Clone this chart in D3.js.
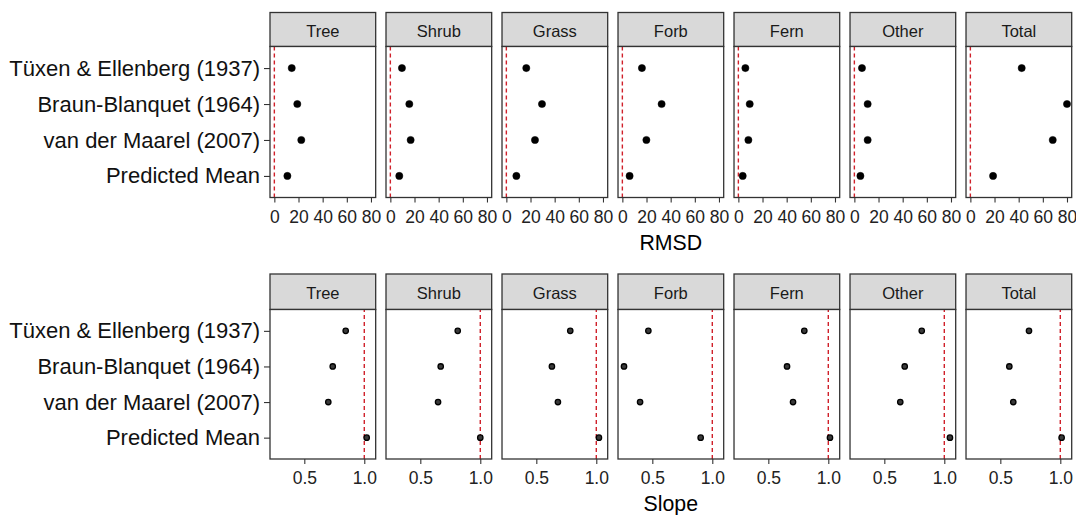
<!DOCTYPE html>
<html>
<head>
<meta charset="utf-8">
<script src="https://cdn.jsdelivr.net/npm/d3@7"></script>
<style>
  body { margin: 0; background: #fff; }
  svg text { font-family: "Liberation Sans", Arial, sans-serif; }
</style>
</head>
<body>
<svg width="1076" height="515"></svg>
<script>
// categories (rows) and facets (columns)
var categories = ["Tüxen & Ellenberg (1937)", "Braun-Blanquet (1964)", "van der Maarel (2007)", "Predicted Mean"];
var groups = ["Tree", "Shrub", "Grass", "Forb", "Fern", "Other", "Total"];

// RMSD values, one array per facet, same order as categories
var rmsdTree  = [14.4, 19.0, 22.3, 10.8];
var rmsdShrub = [9.6, 15.7, 16.8, 7.4];
var rmsdGrass = [16.5, 29.5, 23.7, 8.3];
var rmsdForb  = [16.2, 32.5, 19.9, 6.0];
var rmsdFern  = [5.8, 9.4, 8.3, 3.6];
var rmsdOther = [6.3, 11.0, 11.0, 5.0];
var rmsdTotal = [42.5, 80.0, 68.2, 18.8];

// Slope values
var slopeTree  = [0.845, 0.737, 0.700, 1.020];
var slopeShrub = [0.812, 0.670, 0.648, 1.000];
var slopeGrass = [0.783, 0.630, 0.680, 1.022];
var slopeForb  = [0.467, 0.264, 0.398, 0.903];
var slopeFern  = [0.800, 0.656, 0.706, 1.014];
var slopeOther = [0.812, 0.670, 0.633, 1.047];
var slopeTotal = [0.739, 0.575, 0.608, 1.011];

// tick labels
var rmsdTicks = [0, 20, 40, 60, 80];
var slopeTicks = [0.5, 1.0];

var rmsdData = [rmsdTree, rmsdShrub, rmsdGrass, rmsdForb, rmsdFern, rmsdOther, rmsdTotal];
var slopeData = [slopeTree, slopeShrub, slopeGrass, slopeForb, slopeFern, slopeOther, slopeTotal];

var svg = d3.select("svg");

// facet columns
var facetX = d3.scaleBand().domain(groups).range([270, 1071.7]).paddingInner(0.089).paddingOuter(0);
var panelW = facetX.bandwidth();

function drawRow(opts) {
  var x = d3.scaleLinear().domain(opts.domain).range([0, panelW]);
  var y = d3.scalePoint().domain(categories).range([opts.top, opts.bottom]).padding(0.6);

  groups.forEach(function(g, gi) {
    var gx = facetX(g);
    var p = svg.append("g").attr("transform", "translate(" + gx + ",0)");

    // strip
    p.append("rect")
      .attr("x", 0).attr("y", opts.stripTop)
      .attr("width", panelW).attr("height", opts.top - opts.stripTop)
      .attr("fill", "#d9d9d9").attr("stroke", "#333").attr("stroke-width", 1.3);
    p.append("text")
      .attr("x", panelW / 2).attr("y", (opts.stripTop + opts.top) / 2 + 7.5)
      .attr("text-anchor", "middle")
      .attr("font-size", "16.5px").attr("fill", "#1a1a1a")
      .text(g);

    // panel background
    p.append("rect")
      .attr("x", 0).attr("y", opts.top)
      .attr("width", panelW).attr("height", opts.bottom - opts.top)
      .attr("fill", "#fff");

    // reference line, drawn bottom to top
    p.append("line")
      .attr("x1", x(opts.ref)).attr("x2", x(opts.ref))
      .attr("y1", opts.bottom).attr("y2", opts.top)
      .attr("stroke", "#d0202a").attr("stroke-width", 1.4)
      .attr("stroke-dasharray", "4,3");

    // points
    p.selectAll("circle")
      .data(opts.data[gi])
      .enter()
      .append("circle")
      .attr("cx", function(d) { return x(d); })
      .attr("cy", function(d, i) { return y(categories[i]); })
      .attr("r", opts.r)
      .attr("fill", opts.fill)
      .attr("stroke", "#000")
      .attr("stroke-width", opts.sw);

    // panel border
    p.append("rect")
      .attr("x", 0).attr("y", opts.top)
      .attr("width", panelW).attr("height", opts.bottom - opts.top)
      .attr("fill", "none").attr("stroke", "#333").attr("stroke-width", 1.3);

    // x axis
    var ax = p.append("g")
      .attr("transform", "translate(0," + opts.bottom + ")")
      .call(d3.axisBottom(x).tickValues(opts.ticks).tickFormat(opts.fmt).tickSize(5).tickPadding(8));
    ax.select(".domain").remove();
    ax.selectAll("line").attr("stroke", "#333").attr("stroke-width", 1.1);
    ax.selectAll("text")
      .attr("font-size", "17.5px").attr("fill", "#222")
      .attr("font-family", "Liberation Sans, Arial, sans-serif");

    // y axis only on first facet
    if (gi === 0) {
      var ay = p.append("g")
        .call(d3.axisLeft(y).tickSize(6).tickPadding(4));
      ay.select(".domain").remove();
      ay.selectAll("line").attr("stroke", "#333").attr("stroke-width", 1.1);
      ay.selectAll("text")
        .attr("font-size", "22px").attr("fill", "#111")
        .attr("font-family", "Liberation Sans, Arial, sans-serif");
    }
  });

  // axis title
  svg.append("text")
    .attr("x", 670.8).attr("y", opts.titleY)
    .attr("text-anchor", "middle")
    .attr("font-size", "21.3px").attr("fill", "#000")
    .text(opts.title);
}

drawRow({
  stripTop: 12.5, top: 46.5, bottom: 197.5,
  domain: [-3.6, 83.9], ref: 0, data: rmsdData,
  ticks: rmsdTicks, fmt: d3.format("d"),
  r: 3.6, fill: "#000", sw: 0.5,
  title: "RMSD", titleY: 250
});

drawRow({
  stripTop: 274, top: 309.5, bottom: 459,
  domain: [0.214, 1.095], ref: 1, data: slopeData,
  ticks: slopeTicks, fmt: d3.format(".1f"),
  r: 2.7, fill: "#3a3a3a", sw: 1.3,
  title: "Slope", titleY: 511
});
</script>
</body>
</html>
